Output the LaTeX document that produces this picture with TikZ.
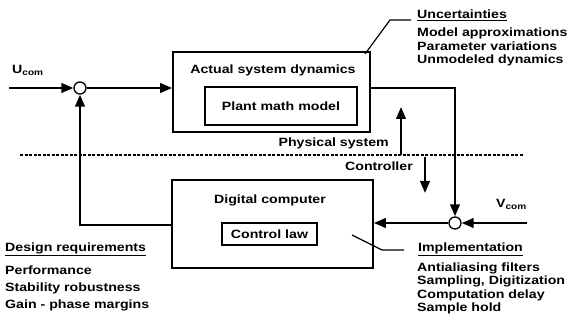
\documentclass[tikz,border=0pt]{standalone}
\usepackage{fontspec}
\setmainfont{Liberation Sans}[FakeStretch=1.18]
\usetikzlibrary{arrows.meta}
\newcommand{\subcom}[1]{#1{\fontsize{8.5}{9}\selectfont\raisebox{-0.45ex}{com}}}
\begin{document}
\begin{tikzpicture}[x=1pt,y=-1pt,
  every node/.style={font=\fontsize{12}{13}\selectfont\bfseries},
  blockbox/.style={draw,line width=1.6pt,inner sep=0pt},
  innerbox/.style={draw,line width=1.6pt,inner sep=0pt},
  sig/.style={line width=2.4pt,-{Triangle[length=12pt,width=9.5pt]}},
  sumj/.style={circle,draw,line width=1.3pt,fill=white,minimum size=12pt,inner sep=0pt},
  lead/.style={line width=1.2pt},
  txt/.style={anchor=west,inner sep=0pt},
  hd/.style={anchor=west,inner sep=0pt}
]
\useasboundingbox (0,0) rectangle (567,331);
% boxes
\node[blockbox,minimum width=197pt,minimum height=80pt] (plant) at (271.5,92) {};
\node[innerbox,minimum width=152pt,minimum height=38pt] (math) at (281,106) {Plant math model};
\node[anchor=center] (asd) at (273,70) {Actual system dynamics};
\node[blockbox,minimum width=201pt,minimum height=88pt] (comp) at (272.5,224) {};
\node[anchor=center] (dc) at (270,200) {Digital computer};
\node[innerbox,minimum width=95pt,minimum height=22pt] (claw) at (269.5,234) {Control law};
% junctions
\node[sumj] (s1) at (80,88) {};
\node[sumj] (s2) at (455,223) {};
% coordinates
\coordinate (uin) at (9,88);
\coordinate (vin) at (527,223);
\coordinate (pout) at (plant.east |- 0,88);
\coordinate (pcorner) at (455,88);
\coordinate (fbcorner) at (80,225);
\coordinate (cleft) at (comp.west |- 0,225);
\coordinate (dl) at (20,155);
\coordinate (dr) at (523,155);
\coordinate (upa) at (401,155);
\coordinate (upb) at (401,107);
\coordinate (dna) at (425,157);
\coordinate (dnb) at (425,193);
% dashed divider
\draw[line width=1.4pt,dash pattern=on 3pt off 1.5pt] (dl) -- (dr);
% signal lines
\draw[sig] (uin) -- (s1.west);
\draw[sig] (s1.east) -- (plant.west |- s1);
\draw[sig] (pout) -- (pcorner) -- (s2.north);
\draw[sig] (vin) -- (s2.east);
\draw[sig] (s2.west) -- (comp.east |- s2);
\draw[sig] (cleft) -- (fbcorner) -- (s1.south);
\draw[sig] (upa) -- (upb);
\draw[sig] (dna) -- (dnb);
% labels
\node[txt] (ucom) at (12,70) {\subcom{U}};
\node[txt] (vcom) at (496,204) {\subcom{V}};
\node[anchor=east,inner sep=0pt] (phys) at (389,143) {Physical system};
\node[anchor=east,inner sep=0pt] (ctrl) at (413,166) {Controller};
% uncertainties
\coordinate (u1) at (365,54);
\coordinate (u2) at (390,20);
\coordinate (u3) at (411,20);
\draw[lead] (u1) -- (u2) -- (u3);
\node[hd] (unc) at (417,15) {\underline{Uncertainties}};
\node[txt] (ma) at (417,33) {Model approximations};
\node[txt] (pv) at (417,46.5) {Parameter variations};
\node[txt] (ud) at (417,60) {Unmodeled dynamics};
% implementation
\coordinate (i1) at (352,235);
\coordinate (i2) at (382,250);
\coordinate (i3) at (404,250);
\draw[lead] (i1) -- (i2) -- (i3);
\node[hd] (impl) at (418,249) {\underline{Implementation}};
\node[txt] (aa) at (417,268) {Antialiasing filters};
\node[txt] (sd) at (417,281.5) {Sampling, Digitization};
\node[txt] (cd) at (417,295) {Computation delay};
\node[txt] (sh) at (417,308.5) {Sample hold};
% design requirements
\node[hd] (dr0) at (5,249) {\underline{Design requirements}};
\node[txt] (pf) at (5,270) {Performance};
\node[txt] (sr) at (5,288) {Stability robustness};
\node[txt] (gp) at (5,305) {Gain - phase margins};
\end{tikzpicture}
\end{document}
